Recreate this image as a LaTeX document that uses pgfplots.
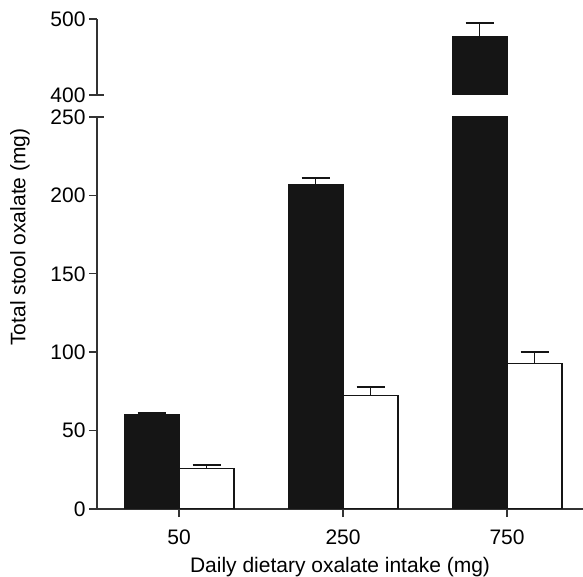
\documentclass[border=0pt]{standalone}
\usepackage{fontspec}
\setmainfont{Liberation Sans}
\usepackage{pgfplots}
\usepackage{pgfplotstable}
\pgfplotsset{compat=1.18}
\definecolor{barblack}{HTML}{151515}
\definecolor{axgray}{HTML}{333333}

% x = category index, y = mean, err = upper error
\pgfplotstableread{
x y err
0 60.3 1.0
1 207.0 4.3
2 477.6 17.5
}\blackdata
\pgfplotstableread{
x y err
0 26.0 2.2
1 72.3 5.7
2 92.9 7.3
}\whitedata

\newcommand{\lbl}{\fontsize{21}{25}\selectfont}

\pgfplotsset{
  brk/.style={
    width=486pt, scale only axis,
    xmin=-0.5, xmax=2.463,
    ybar=0pt, bar width=55pt,
    axis line style={line width=1.4pt, color=axgray},
    tick style={line width=1.4pt, color=axgray},
    major tick length=8pt, tick align=outside,
    tick label style={font=\lbl},
    /pgf/number format/assume math mode=true,
    axis y line*=left,
    error bars/y dir=plus, error bars/y explicit,
    error bars/error bar style={line width=1.8pt, color=barblack},
    error bars/error mark options={rotate=90, mark size=14pt, line width=1.8pt, color=barblack},
  },
  blk/.style={fill=barblack, draw=barblack, line width=1pt},
  wht/.style={fill=white, draw=barblack, line width=1.2pt},
}

\begin{document}
\begin{tikzpicture}
\useasboundingbox (-97pt,-68pt) rectangle (486pt,509pt);
% lower panel 0-250
\begin{axis}[brk, at={(0,0)}, anchor=south west,
  height=392pt, ymin=0, ymax=250, ytick={0,50,...,250},
  axis x line*=bottom,
  xtick={0,1,2}, xticklabels={50,250,750},
  xticklabel style={yshift=-9pt},
  xlabel={Daily dietary oxalate intake (mg)},
  xlabel style={font=\lbl, at={(axis description cs:0.5,0)}, anchor=center, yshift=-58pt},
]
\addplot[blk] table[x=x, y=y, y error=err] {\blackdata};
\addplot[wht] table[x=x, y=y, y error=err] {\whitedata};
\end{axis}
% upper panel 400-500, only the bar that reaches it
\begin{axis}[brk, at={(0,414pt)}, anchor=south west,
  height=76pt, ymin=400, ymax=500, ytick={400,500},
  hide x axis,
]
\addplot[blk, bar shift=-27.5pt, restrict y to domain=400:1000]
  table[x=x, y=y, y error=err] {\blackdata};
\end{axis}
% break marks
\draw[line width=1.4pt, axgray] (0,392pt) -- (7pt,392pt);
\draw[line width=1.4pt, axgray] (0,414pt) -- (7pt,414pt);
\node[rotate=90, font=\lbl] at (-77pt,272pt) {Total stool oxalate (mg)};
\end{tikzpicture}
\end{document}
